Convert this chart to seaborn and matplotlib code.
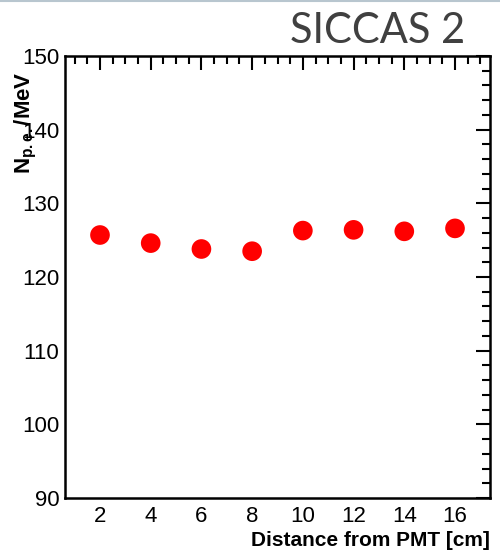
import matplotlib
matplotlib.use("Agg")
import matplotlib.pyplot as plt
from matplotlib.ticker import MultipleLocator
from matplotlib.lines import Line2D
import seaborn as sns
import pandas as pd

# Light yield along the crystal
distance_cm = [2, 4, 6, 8, 10, 12, 14, 16]
npe_per_mev = [125.7, 124.6, 123.8, 123.5, 126.3, 126.4, 126.2, 126.6]

x_ticks = [2, 4, 6, 8, 10, 12, 14, 16]
y_ticks = [90, 100, 110, 120, 130, 140, 150]

df = pd.DataFrame({"distance": distance_cm, "npe": npe_per_mev})

sns.set_theme(style="white")
plt.rcParams["font.family"] = ["Liberation Sans", "DejaVu Sans"]
plt.rcParams["mathtext.fontset"] = "custom"
plt.rcParams["mathtext.rm"] = "Liberation Sans"
plt.rcParams["mathtext.bf"] = "Liberation Sans:bold"
plt.rcParams["mathtext.it"] = "Liberation Sans:italic"

fig = plt.figure(figsize=(5.0, 5.56), dpi=100)
ax = fig.add_axes([0.13, 0.1043, 0.85, 0.795])

sns.scatterplot(data=df, x="distance", y="npe", ax=ax, color="#ff0000",
                s=200, edgecolor="none", linewidth=0, zorder=3)

ax.set_xlim(0.62, 17.38)
ax.set_ylim(90, 150)
ax.set_xticks(x_ticks)
ax.set_yticks(y_ticks)
ax.xaxis.set_minor_locator(MultipleLocator(0.5))
ax.yaxis.set_minor_locator(MultipleLocator(2))

for side in ax.spines.values():
    side.set_visible(True)
    side.set_color("black")
    side.set_linewidth(1.8)

ax.tick_params(axis="both", which="both", direction="in", top=True, right=True,
               colors="black", width=1.5)
ax.tick_params(axis="both", which="major", length=10, labelsize=16, pad=4)
ax.tick_params(axis="both", which="minor", length=5.5)
ax.tick_params(axis="x", which="major", pad=6)

ax.set_xlabel("Distance from PMT [cm]", fontsize=15, fontweight="bold",
              color="black")
ax.xaxis.set_label_coords(1.0, -0.075)
ax.xaxis.label.set_horizontalalignment("right")

ax.set_ylabel(r"$\mathbf{N_{p.e.}/MeV}$", fontsize=16, color="black")
ax.yaxis.set_label_coords(-0.093, 0.965)
ax.yaxis.label.set_horizontalalignment("right")
ax.yaxis.label.set_verticalalignment("center")

fig.text(0.93, 0.9227, "SICCAS 2", ha="right", va="baseline",
         fontsize=30, color="#404040", family=["Lato", "DejaVu Sans"])

fig.add_artist(Line2D([0, 1], [0.999, 0.999], transform=fig.transFigure,
                      color="#b8c6cf", linewidth=1.5))

fig.savefig("out.png", dpi=100)
